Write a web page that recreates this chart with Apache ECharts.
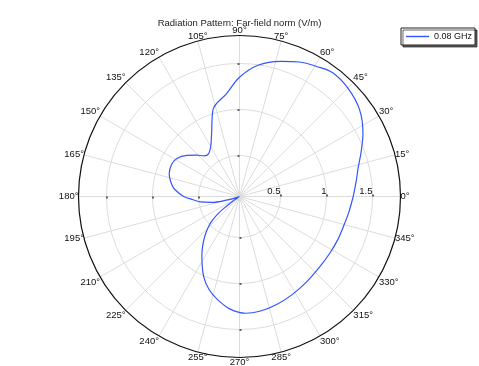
<!DOCTYPE html>
<html><head><meta charset="utf-8">
<script src="https://cdn.jsdelivr.net/npm/echarts@6/dist/echarts.min.js"></script>
<style>html,body{margin:0;padding:0;background:#fff}#c{width:479px;height:366px}</style>
</head><body><div id="c"></div>
<script>
const titleText = 'Radiation Pattern: Far-field norm (V/m)';
const seriesName = '0.08 GHz';
// angle in degrees (counter-clockwise from +x), far-field norm (V/m)
const angles = [0, 7, 14, 20, 27, 36, 45, 53, 59, 66, 73, 82, 90, 97, 107, 114, 120, 126, 131, 136, 142, 149, 155, 162, 170, 174, 180, 184, 188, 192, 196, 200, 205, 210, 214, 217, 219, 222, 225, 229, 234, 238, 246, 252, 258, 265, 273, 280, 289, 298, 308, 318, 328, 336, 344, 352, 360];
const values = [1.29, 1.33, 1.385, 1.46, 1.56, 1.666, 1.72, 1.737, 1.70, 1.654, 1.59, 1.495, 1.35, 1.184, 1.04, 0.80, 0.68, 0.627, 0.64, 0.70, 0.78, 0.853, 0.87, 0.857, 0.802, 0.758, 0.66, 0.56, 0.48, 0.36, 0.2, 0.1, 0.055, 0.07, 0.12, 0.25, 0.37, 0.47, 0.54, 0.63, 0.74, 0.825, 1.01, 1.12, 1.2, 1.28, 1.325, 1.32, 1.295, 1.265, 1.235, 1.215, 1.213, 1.22, 1.23, 1.255, 1.29];
const radiusTicks = [0.5, 1, 1.5];
const radiusMin = 0.054, radiusMax = 1.804;
const angleStep = 15;

const chart = echarts.init(document.getElementById('c'));
const font = 'Liberation Sans, Arial, sans-serif';
const data = angles.map((a, i) => [values[i], a]);

const polars = [], angleAxes = [], radiusAxes = [];
[0, 90, 180, 270].forEach((sa, i) => {
  polars.push({center: [239.5, 196.5], radius: 161});
  angleAxes.push({
    polarIndex: i, type: 'value', min: 0, max: 360, interval: angleStep,
    startAngle: sa, clockwise: false,
    show: i === 0,
    axisLine: {show: i === 0, lineStyle: {color: '#111', width: 1.2}},
    axisTick: {show: false},
    axisLabel: {show: i === 0, margin: 0, formatter: '{value}°', color: '#111', fontSize: 9.5, fontFamily: font},
    splitLine: {show: i === 0, lineStyle: {color: '#dcdcdc', width: 1}}
  });
  radiusAxes.push({
    polarIndex: i, type: 'value', min: radiusMin, max: radiusMax, interval: 0.5,
    axisLine: {show: false},
    axisTick: {show: true, customValues: radiusTicks, length: 2, lineStyle: {color: '#333', width: 1.5}},
    axisLabel: {show: i === 0, customValues: radiusTicks, color: '#111', fontSize: 9.5, fontFamily: font,
      formatter: v => String(v), margin: 0, align: 'right', verticalAlign: 'bottom'},
    splitLine: {show: i === 0, lineStyle: {color: '#dcdcdc', width: 1}},
    z: 5
  });
});

chart.setOption({
  animation: false,
  title: {text: titleText, left: 'center', top: 13, textStyle: {fontSize: 9.5, fontWeight: 'normal', color: '#222', fontFamily: font}},
  legend: {
    left: 401, top: 28, padding: [4, 3, 4, 5],
    borderColor: '#222', borderWidth: 1, backgroundColor: '#fff',
    shadowColor: 'rgba(0,0,0,0.6)', shadowOffsetX: 2, shadowOffsetY: 2, shadowBlur: 0,
    itemWidth: 23, itemHeight: 1.4, itemGap: 4,
    textStyle: {fontSize: 9, color: '#111', fontFamily: font},
    data: [{name: seriesName, icon: 'rect'}]
  },
  polar: polars,
  angleAxis: angleAxes,
  radiusAxis: radiusAxes,
  series: [{
    name: seriesName, type: 'line', coordinateSystem: 'polar', polarIndex: 0,
    data: data, symbol: 'none', smooth: 0.35,
    lineStyle: {color: '#3355ff', width: 1.2}, itemStyle: {color: '#3355ff'}, z: 10
  }]
});
</script></body></html>
